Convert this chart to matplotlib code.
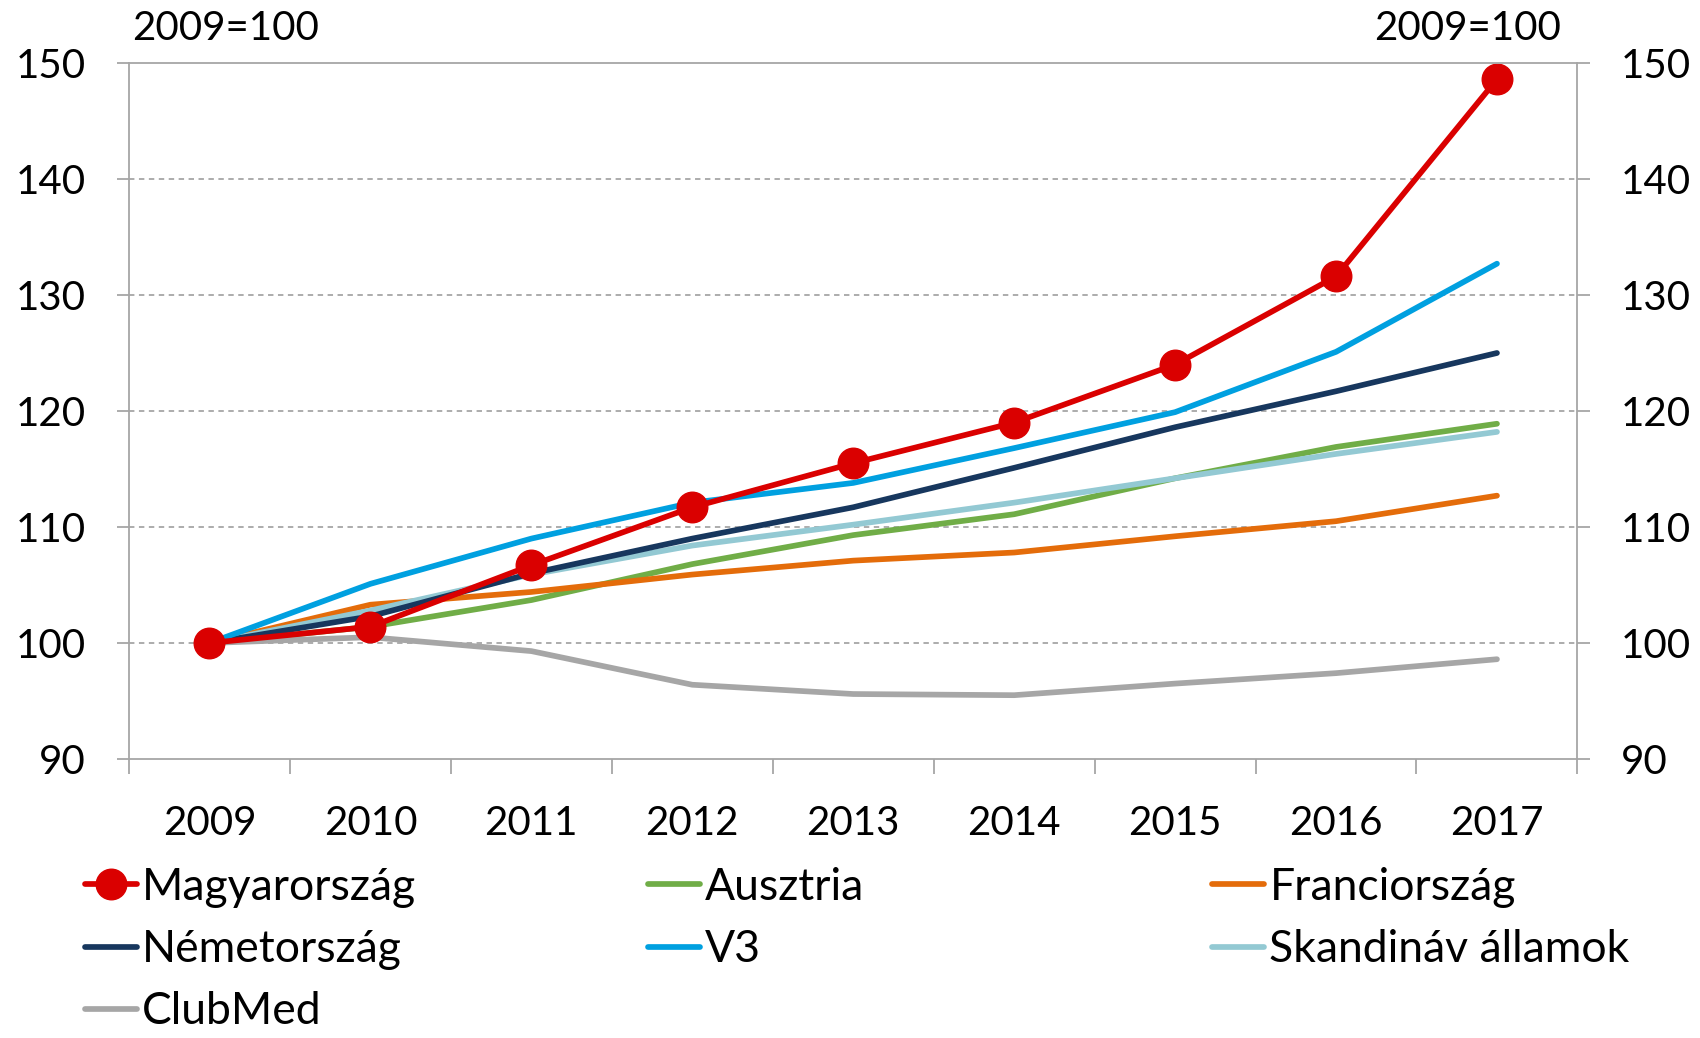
import numpy as np
import matplotlib.pyplot as plt
from matplotlib.ticker import FixedLocator, NullFormatter

plt.rcParams['font.family'] = ['Lato', 'DejaVu Sans']

years = ['2009', '2010', '2011', '2012', '2013', '2014', '2015', '2016', '2017']

magyar = [100, 101.4, 106.7, 111.7, 115.5, 119.0, 124.0, 131.6, 148.6]
ausztria = [100, 101.4, 103.7, 106.8, 109.3, 111.1, 114.2, 116.9, 118.9]
francia = [100, 103.3, 104.4, 105.9, 107.1, 107.8, 109.2, 110.5, 112.7]
nemet = [100, 102.3, 106.0, 109.0, 111.7, 115.1, 118.6, 121.7, 125.0]
v3 = [100, 105.1, 109.0, 112.1, 113.8, 116.8, 119.9, 125.1, 132.7]
skandinav = [100, 102.8, 105.9, 108.4, 110.2, 112.1, 114.2, 116.3, 118.2]
clubmed = [100, 100.5, 99.3, 96.4, 95.6, 95.5, 96.5, 97.4, 98.6]

grey = '#A6A6A6'
fs = 29

fig = plt.figure(figsize=(17, 10.38), dpi=100)
ax = fig.add_axes([0.0759, 0.2688, 0.852, 0.6705])
x = np.arange(len(years))

l_aus, = ax.plot(x, ausztria, color='#70AD47', lw=4.1, solid_capstyle='round')
l_fra, = ax.plot(x, francia, color='#E46C0A', lw=4.1, solid_capstyle='round')
l_cm, = ax.plot(x, clubmed, color=grey, lw=4.1, solid_capstyle='round')
l_sk, = ax.plot(x, skandinav, color='#93C9D3', lw=4.1, solid_capstyle='round')
l_ne, = ax.plot(x, nemet, color='#17375E', lw=4.1, solid_capstyle='round')
l_v3, = ax.plot(x, v3, color='#00A0E0', lw=4.1, solid_capstyle='round')
l_hu, = ax.plot(x, magyar, color='#DA0000', lw=4.1, marker='o', markersize=22,
                solid_capstyle='round')

ax.set_xlim(-0.5, 8.5)
ax.set_ylim(90, 150)
ax.set_yticks(np.arange(90, 151, 10))
for v in range(100, 150, 10):
    ax.axhline(v, color=grey, lw=1.3, ls=(0, (3, 2.5)), zorder=0)

ax.xaxis.set_major_locator(FixedLocator(np.arange(-0.5, 9, 1)))
ax.xaxis.set_major_formatter(NullFormatter())
ax.xaxis.set_minor_locator(FixedLocator(x))
ax.set_xticklabels(years, minor=True)
ax.tick_params(axis='x', which='major', length=11, width=1.3, color=grey)
ax.tick_params(axis='x', which='minor', length=0, pad=33, labelsize=fs)
ax.tick_params(axis='y', which='major', length=9, width=1.3, color=grey,
               labelsize=fs, pad=22, right=True, labelright=True)
for s in ax.spines.values():
    s.set_color(grey)
    s.set_linewidth(1.3)

fig.text(0.078, 0.973, '2009=100', fontsize=fs, va='center', ha='left')
fig.text(0.918, 0.973, '2009=100', fontsize=fs, va='center', ha='right')

# legend in three fixed columns, filled row by row like the original
cols = [([l_hu, l_ne, l_cm], ['Magyarország', 'Németország', 'ClubMed'], 0.050),
        ([l_aus, l_v3], ['Ausztria', 'V3'], 0.381),
        ([l_fra, l_sk], ['Franciország', 'Skandináv államok'], 0.713)]
for handles, labels, xpos in cols:
    fig.legend(handles, labels, loc='upper left', bbox_to_anchor=(xpos, 0.165),
               frameon=False, fontsize=32, handlelength=1.17, handletextpad=0.12,
               labelspacing=0.48, borderpad=0, borderaxespad=0)

fig.savefig('out.png', dpi=100)
